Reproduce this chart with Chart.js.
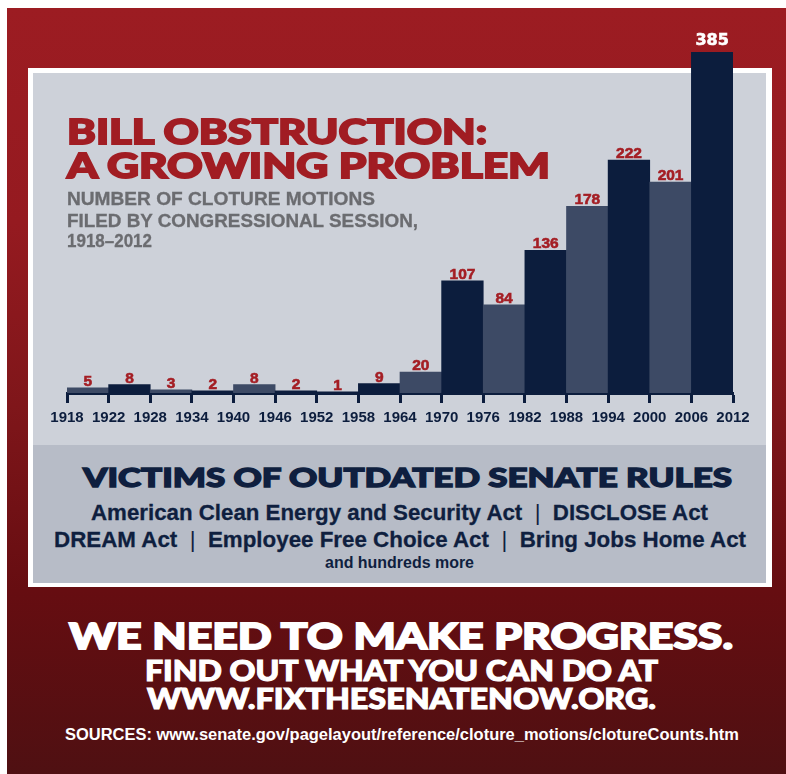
<!DOCTYPE html>
<html><head><meta charset="utf-8">
<script src="https://cdn.jsdelivr.net/npm/chart.js@4.4.1/dist/chart.umd.min.js"></script>
<style>
html,body{margin:0;padding:0;background:#fff;width:786px;height:774px;overflow:hidden;position:relative}
#red{position:absolute;left:7px;top:8px;width:779px;height:766px;
 background:linear-gradient(to bottom,#9c1c22 0%,#951a20 28%,#7f161a 52%,#660d11 76%,#4f1012 100%)}
#panel{position:absolute;left:28px;top:68px;width:744px;height:519px;background:#fff}
#upper{position:absolute;left:33px;top:73px;width:733px;height:372px;background:#cdd1d9}
#lower{position:absolute;left:33px;top:445px;width:733px;height:138px;background:#b7bcc7}
#chart{position:absolute;left:0;top:0}
.t{position:absolute;white-space:nowrap;line-height:1;transform-origin:0 0;margin:0;padding:0}
.pipe{font-weight:400;-webkit-text-stroke:0}
</style></head>
<body>
<div id="red"></div>
<div id="panel"></div>
<div id="upper"></div>
<div id="lower"></div>
<canvas id="chart" width="786" height="440"></canvas>
<div id="texts"></div>
<script>
// ---- data ----
const tickYears = ['1918','1922','1928','1934','1940','1946','1952','1958','1964','1970','1976','1982','1988','1994','2000','2006','2012'];
const sessionLabels = ['1918–1922','1922–1928','1928–1934','1934–1940','1940–1946','1946–1952','1952–1958','1958–1964','1964–1970','1970–1976','1976–1982','1982–1988','1988–1994','1994–2000','2000–2006','2006–2012'];
const clotureMotions = [5,8,3,2,8,2,1,9,20,107,84,136,178,222,201,385];

// ---- styles ----
const navy = '#0c1d3d', slate = '#3d4a65', redText = '#a41e24';
const lightIdx = [0,2,4,8,10,12,14];
const barColors = clotureMotions.map((v,i)=> lightIdx.includes(i) ? slate : navy);

const valueLabels = {
  id:'valueLabels',
  afterDatasetsDraw(chart){
    const ctx = chart.ctx, area = chart.chartArea, meta = chart.getDatasetMeta(0);
    const vals = chart.data.datasets[0].data;
    ctx.save();
    ctx.textAlign = 'center'; ctx.textBaseline = 'alphabetic';
    meta.data.forEach((bar,i)=>{
      const over = bar.y < area.top;
      const top = Math.max(bar.y, area.top);
      ctx.font = over ? 'bold 16px "DejaVu Sans"' : 'bold 15.5px "Liberation Sans"';
      ctx.fillStyle = over ? '#ffffff' : redText;
      ctx.strokeStyle = ctx.fillStyle; ctx.lineWidth = 0.6;
      const y = top - (over ? 7 : 2);
      ctx.fillText(String(vals[i]), bar.x, y);
      ctx.strokeText(String(vals[i]), bar.x, y);
    });
    ctx.restore();
  }
};

new Chart(document.getElementById('chart'), {
  type:'bar',
  data:{
    labels: sessionLabels,
    datasets:[{
      data: clotureMotions,
      backgroundColor: barColors,
      borderWidth:0,
      barPercentage:1,
      categoryPercentage:1,
      clip:0
    }]
  },
  options:{
    responsive:false,
    devicePixelRatio:1,
    animation:false,
    events:[],
    layout:{padding:{left:67,right:53,top:52,bottom:0}},
    plugins:{legend:{display:false},tooltip:{enabled:false}},
    scales:{
      x:{type:'category',offset:true,display:false,grid:{offset:true}},
      x2:{type:'category',labels:tickYears,position:'bottom',offset:false,
        grid:{display:true,drawOnChartArea:false,drawTicks:true,tickLength:10,tickWidth:3,tickColor:navy,offset:false},
        border:{display:true,color:navy,width:3},
        ticks:{color:navy,font:{family:'"Liberation Sans"',weight:'bold',size:15},padding:6,maxRotation:0,autoSkip:false},
        afterFit(s){ s.height = 440-393; }
      },
      y:{display:false,min:0,max:325}
    }
  },
  plugins:[valueLabels]
});

// ---- text layer ----
const heavy = '"Lato","DejaVu Sans",sans-serif';
const sans = '"Liberation Sans",Arial,sans-serif';
const texts = [
  {html:'BILL OBSTRUCTION:', f:heavy, w:900, c:'#a11d23', cap:25, base:144, x:67, width:420, st:1.8},
  {html:'A GROWING PROBLEM', f:heavy, w:900, c:'#a11d23', cap:25, base:178, x:67, width:483, st:1.8},
  {html:'NUMBER OF CLOTURE MOTIONS', f:sans, w:700, c:'#6b6c70', cap:12.5, base:206, x:67, width:308, st:0.3},
  {html:'FILED BY CONGRESSIONAL SESSION,', f:sans, w:700, c:'#6b6c70', cap:12.5, base:228, x:67, width:351, st:0.3},
  {html:'1918–2012', f:sans, w:700, c:'#6b6c70', cap:12.5, base:248, x:67, width:85, st:0.3},
  {html:'VICTIMS OF OUTDATED SENATE RULES', f:heavy, w:900, c:'#0f1f3f', cap:19.5, base:488, x:83, width:649, st:1.4},
  {html:'American Clean Energy and Security Act <span class="pipe">&nbsp;|&nbsp;</span> DISCLOSE Act', f:sans, w:700, c:'#0f1f3f', cap:16, base:520, x:91, width:617, st:0.3},
  {html:'DREAM Act <span class="pipe">&nbsp;|&nbsp;</span> Employee Free Choice Act <span class="pipe">&nbsp;|&nbsp;</span> Bring Jobs Home Act', f:sans, w:700, c:'#0f1f3f', cap:16, base:547, x:54, width:692, st:0.3},
  {html:'and hundreds more', f:sans, w:700, c:'#0f1f3f', cap:11, base:568, x:325, width:149, st:0},
  {html:'WE NEED TO MAKE PROGRESS.', f:heavy, w:900, c:'#ffffff', cap:27, base:650, cx:401, width:664, st:1.8},
  {html:'FIND OUT WHAT YOU CAN DO AT', f:heavy, w:900, c:'#ffffff', cap:21, base:682, cx:401, width:513, st:1.1},
  {html:'WWW.FIXTHESENATENOW.ORG.', f:heavy, w:900, c:'#ffffff', cap:21, base:710, cx:401, width:509, st:1.1},
  {html:'SOURCES: www.senate.gov/pagelayout/reference/cloture_motions/clotureCounts.htm', f:sans, w:700, c:'#ffffff', cap:11, base:740, cx:402, width:674, st:0}
];
const mctx = document.createElement('canvas').getContext('2d');
const holder = document.getElementById('texts');
texts.forEach(t=>{
  mctx.font = `${t.w} 100px ${t.f}`;
  const m = mctx.measureText('H');
  const capR = m.actualBoundingBoxAscent/100;
  const asc = m.fontBoundingBoxAscent/100, desc = m.fontBoundingBoxDescent/100;
  const F = t.cap / capR;
  const el = document.createElement('div');
  el.className = 't';
  el.innerHTML = t.html;
  el.style.fontFamily = t.f; el.style.fontWeight = t.w; el.style.color = t.c;
  el.style.fontSize = F + 'px'; el.style.lineHeight = F + 'px';
  if (t.st) el.style.webkitTextStroke = `${t.st}px ${t.c}`;
  el.style.top = (t.base - F*(1 + asc - desc)/2) + 'px';
  holder.appendChild(el);
  const nat = el.getBoundingClientRect().width;
  const s = t.width / nat;
  el.style.transform = `scaleX(${s})`;
  const left = (t.x !== undefined) ? t.x : t.cx - t.width/2;
  el.style.left = left + 'px';
});
</script>
</body></html>
